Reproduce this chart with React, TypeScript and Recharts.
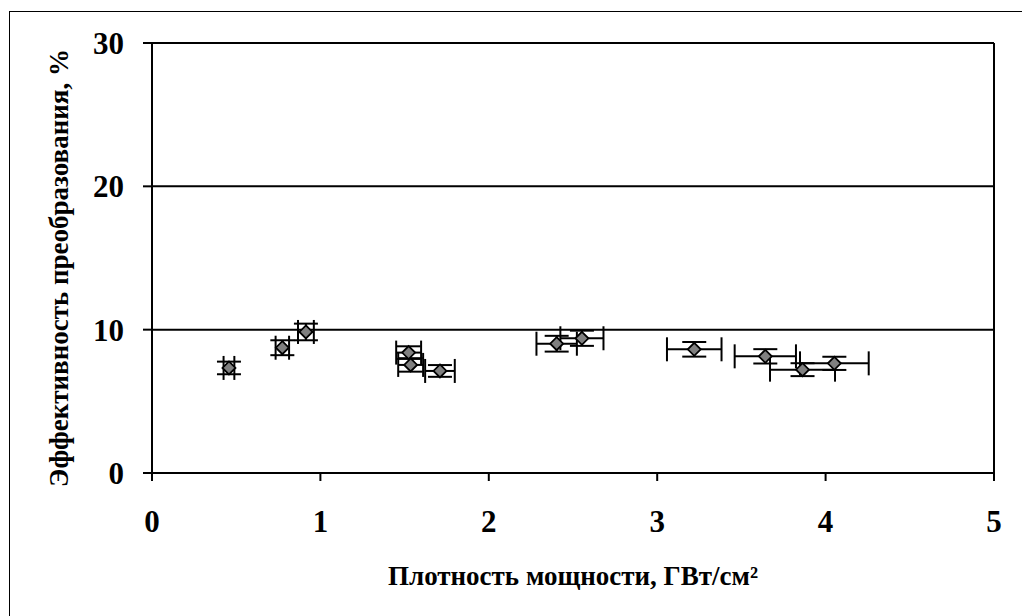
import React from "react";
import {
  ScatterChart,
  Scatter,
  XAxis,
  YAxis,
  CartesianGrid,
  ErrorBar,
  ReferenceLine,
} from "recharts";

const powerDensity = [0.457, 0.774, 0.914, 1.524, 1.536, 1.71, 2.403, 2.553, 3.22, 3.642, 3.863, 4.052];
const efficiency = [7.33, 8.74, 9.84, 8.4, 7.54, 7.12, 9.02, 9.4, 8.63, 8.14, 7.21, 7.65];
const powerErr = [0.032, 0.04, 0.047, 0.074, 0.074, 0.088, 0.12, 0.128, 0.162, 0.182, 0.193, 0.204];
const effErr = [0.44, 0.52, 0.58, 0.44, 0.47, 0.41, 0.55, 0.53, 0.51, 0.5, 0.45, 0.46];

const xTicks = [0, 1, 2, 3, 4, 5];
const yTicks = [0, 10, 20, 30];

const xTitle = "Плотность мощности, ГВт/см²";
const yTitle = "Эффективность преобразования, %";

const data = powerDensity.map((x, i) => ({
  x,
  y: efficiency[i],
  xErr: powerErr[i],
  yErr: effErr[i],
}));

const FONT = "'Liberation Serif', 'Times New Roman', serif";

const Diamond = (props: any) => {
  const { cx, cy } = props;
  if (cx == null || cy == null) return null;
  const r = 6.5;
  return (
    <polygon
      points={`${cx},${cy - r} ${cx + r},${cy} ${cx},${cy + r} ${cx - r},${cy}`}
      fill="#808080"
      stroke="#000"
      strokeWidth={1.8}
    />
  );
};

export default function App() {
  const tickStyle = { fontFamily: FONT, fontSize: 31, fontWeight: 700, fill: "#000" };
  return (
    <div style={{ position: "fixed", left: 0, top: 0, width: 1022, height: 616, background: "#fff", overflow: "hidden" }}>
      <div
        style={{
          position: "absolute",
          left: 9,
          top: 11,
          width: 1100,
          height: 700,
          borderLeft: "1.5px solid #000",
          borderTop: "1.5px solid #000",
          boxSizing: "border-box",
        }}
      />
      <div style={{ position: "absolute", left: 0, top: 0 }}>
        <ScatterChart width={1022} height={616} margin={{ top: 43, right: 28, bottom: 83, left: 0 }}>
          <CartesianGrid horizontal vertical={false} stroke="#000" strokeWidth={2} />
          <XAxis
            type="number"
            dataKey="x"
            domain={[0, 5]}
            ticks={xTicks}
            height={60}
            axisLine={{ stroke: "#000", strokeWidth: 2 }}
            tickLine={{ stroke: "#000", strokeWidth: 2 }}
            tickSize={8}
            tickMargin={29}
            tick={tickStyle}
            interval={0}
          />
          <YAxis
            type="number"
            dataKey="y"
            domain={[0, 30]}
            ticks={yTicks}
            width={152}
            axisLine={{ stroke: "#000", strokeWidth: 2 }}
            tickLine={{ stroke: "#000", strokeWidth: 2 }}
            tickSize={9}
            tickMargin={19}
            tick={tickStyle}
            interval={0}
          />
          <ReferenceLine x={5} stroke="#000" strokeWidth={2} />
          <Scatter data={data} shape={Diamond} isAnimationActive={false}>
            <ErrorBar dataKey="xErr" direction="x" width={12} stroke="#000" strokeWidth={2} />
            <ErrorBar dataKey="yErr" direction="y" width={12} stroke="#000" strokeWidth={2} />
          </Scatter>
        </ScatterChart>
      </div>
      <svg width={1022} height={616} style={{ position: "absolute", left: 0, top: 0, pointerEvents: "none" }}>
        <text
          x={573}
          y={585}
          textAnchor="middle"
          fontFamily={FONT}
          fontSize={27}
          fontWeight={700}
          fill="#000"
        >
          {xTitle}
        </text>
        <text
          x={0}
          y={0}
          transform="translate(68,268) rotate(-90)"
          textAnchor="middle"
          fontFamily={FONT}
          fontSize={27}
          fontWeight={700}
          fill="#000"
        >
          {yTitle}
        </text>
      </svg>
    </div>
  );
}
